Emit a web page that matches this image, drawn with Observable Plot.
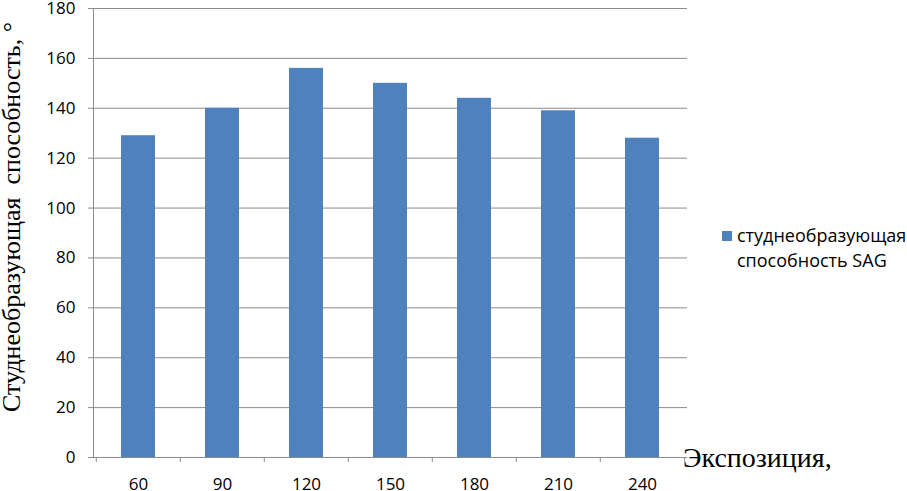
<!DOCTYPE html>
<html>
<head>
<meta charset="utf-8">
<script src="https://cdn.jsdelivr.net/npm/d3@7"></script>
<script src="https://cdn.jsdelivr.net/npm/@observablehq/plot@0.6"></script>
<style>
  html, body { margin: 0; padding: 0; background: #fff; }
  #chart { width: 907px; height: 491px; }
</style>
</head>
<body>
<div id="chart"></div>
<script>
const categories = ["60", "90", "120", "150", "180", "210", "240"];
const values = [129, 140, 156, 150, 144, 139, 128];
const yTicks = [0, 20, 40, 60, 80, 100, 120, 140, 160, 180];
const seriesName = "студнеобразующая способность SAG";
const legendLines = ["студнеобразующая", "способность SAG"];
const yTitle = "Студнеобразующая  способность, °";
const xTitle = "Экспозиция,";

const data = categories.map((c, i) => ({category: c, value: values[i]}));
const barColor = "#4F81BD";
const gridColor = "#8c8c8c";
const sans = "'Open Sans', 'Liberation Sans', sans-serif";
const serif = "'Liberation Serif', 'DejaVu Serif', serif";

function extras(index, scales, values_, dimensions, context) {
  const g = d3.create("svg:g").attr("text-anchor", "start");
  const x = scales.x;
  const step = x.step();
  const off = step * 0.3;
  const {width, height, marginLeft, marginRight, marginTop, marginBottom} = dimensions;
  const yb = height - marginBottom;
  const xr = width - marginRight;
  // y axis line
  g.append("line").attr("x1", marginLeft + 0.5).attr("x2", marginLeft + 0.5)
    .attr("y1", marginTop).attr("y2", yb).attr("stroke", gridColor);
  // x boundary ticks
  const bounds = categories.map(c => x(c) - off);
  bounds.push(x(categories[categories.length - 1]) + x.bandwidth() + off);
  for (const b of bounds) {
    g.append("line").attr("x1", b + 0.5).attr("x2", b + 0.5).attr("y1", yb).attr("y2", yb + 5)
      .attr("stroke", gridColor).attr("stroke-width", 1);
  }
  // legend
  const lx = xr + 35;
  const ly = 231;
  g.append("rect").attr("x", lx).attr("y", ly).attr("width", 10).attr("height", 10).attr("fill", barColor);
  legendLines.forEach((t, i) => {
    g.append("text").attr("x", lx + 15).attr("y", ly + 5 + i * 25).attr("dy", "0.35em")
      .attr("text-anchor", "start")
      .attr("font-family", sans).attr("font-size", 18).attr("fill", "#000").text(t);
  });
  // y title
  g.append("text").attr("transform", `translate(20,412) rotate(-90)`)
    .attr("font-family", serif).attr("font-size", 26).attr("fill", "#000")
    .attr("text-anchor", "start").style("white-space", "pre").text(yTitle);
  // x title
  g.append("text").attr("x", xr - 4).attr("y", 467).attr("text-anchor", "start")
    .attr("font-family", serif).attr("font-size", 28).attr("fill", "#000").text(xTitle);
  return g.node();
}

const plot = Plot.plot({
  width: 907,
  height: 491,
  marginLeft: 93,
  marginRight: 220,
  marginTop: 8,
  marginBottom: 34,
  style: {fontFamily: sans, fontSize: "17px", color: "#000", background: "#fff", overflow: "visible"},
  x: {domain: categories, paddingInner: 0.6, paddingOuter: 0.3, label: null},
  y: {domain: [0, 180], label: null},
  marks: [
    Plot.gridY(yTicks, {stroke: gridColor, strokeOpacity: 1}),
    Plot.barY(data, {x: "category", y: "value", fill: barColor}),
    Plot.axisY(yTicks, {tickSize: 5, tickPadding: 13, stroke: gridColor, fill: "#000", fontSize: 17, label: null}),
    Plot.axisX({tickSize: 0, tickPadding: 20, fill: "#000", fontSize: 17, label: null}),
    Plot.ruleY([0], {stroke: gridColor}),
    extras
  ]
});
document.getElementById("chart").appendChild(plot);
</script>
</body>
</html>
